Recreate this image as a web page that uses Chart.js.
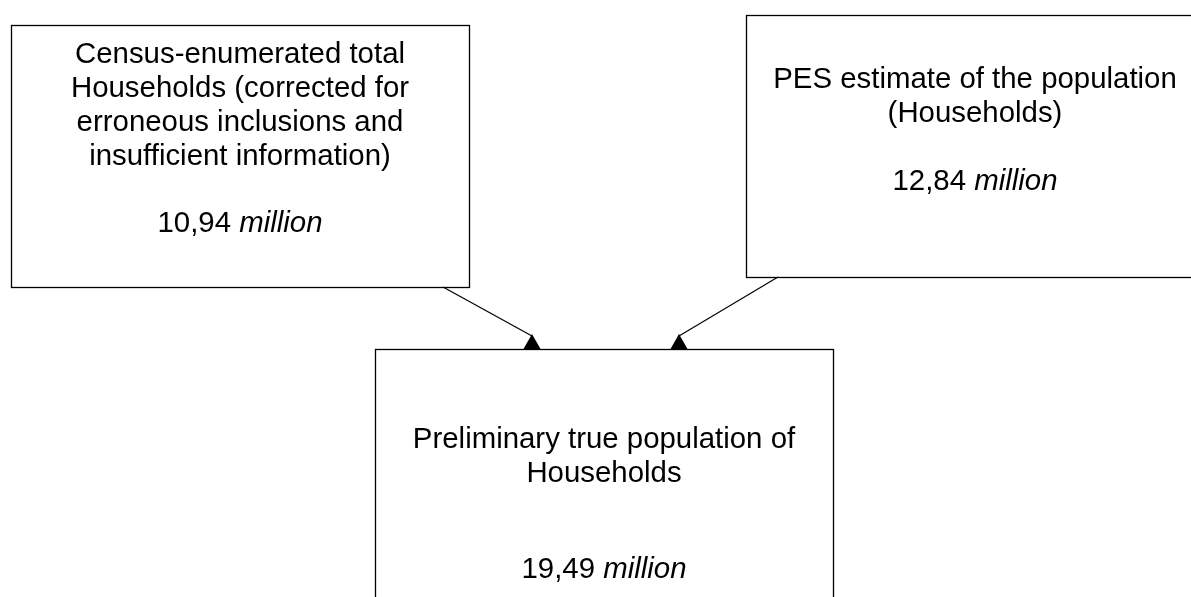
<!DOCTYPE html>
<html>
<head>
<meta charset="utf-8">
<script src="https://cdn.jsdelivr.net/npm/chart.js@4/dist/chart.umd.min.js"></script>
<style>
html,body{margin:0;padding:0;background:#fff;overflow:hidden;}
canvas{display:block;}
</style>
</head>
<body>
<canvas id="c" width="1191" height="597"></canvas>
<script>
// Diagram content
const boxLabels = [
  ["Census-enumerated total", "Households (corrected for", "erroneous inclusions and", "insufficient information)"],
  ["PES estimate of the population", "(Households)"],
  ["Preliminary true population of", "Households"]
];
const boxValues = ["10,94", "12,84", "19,49"];
const unitLabel = "million";
// Box extents in diagram coordinates
const boxLeft   = [11, 746, 375];
const boxRight  = [469, 1204, 833];
const boxTop    = [25, 15, 349];
const boxBottom = [287, 277, 640];
// First label line baseline and value baseline per box
const labelBaseline = [63, 88, 448];
const valueBaseline = [232, 190, 578];
// Arrow connectors: start and tip
const arrowStartX = [443, 778];
const arrowStartY = [287, 277];
const arrowTipX   = [532, 679];
const arrowTipY   = [334, 334];
const arrowBaseY  = [349, 349];

const FONT = '"Liberation Sans", Arial, sans-serif';
const FS = 29.4;
const LH = 34;

const arrowDatasets = arrowStartX.map((sx, i) => ({
  type: 'scatter',
  data: [{x: sx, y: arrowStartY[i]}, {x: arrowTipX[i], y: arrowTipY[i] + 2}],
  showLine: true,
  borderColor: '#000',
  borderWidth: 1.2,
  pointRadius: 0,
  fill: false
}));

const diagramPlugin = {
  id: 'diagram',
  afterDatasetsDraw(chart) {
    const ctx = chart.ctx;
    const xs = chart.scales.x, ys = chart.scales.y;
    ctx.save();
    // boxes
    boxLeft.forEach((l, i) => {
      const x0 = Math.round(xs.getPixelForValue(l)) + 0.5;
      const x1 = Math.round(xs.getPixelForValue(boxRight[i])) + 0.5;
      const y0 = Math.round(ys.getPixelForValue(boxTop[i])) + 0.5;
      const y1 = Math.round(ys.getPixelForValue(boxBottom[i])) + 0.5;
      ctx.strokeStyle = '#000';
      ctx.lineWidth = 1.3;
      ctx.strokeRect(x0, y0, x1 - x0, y1 - y0);
      const cx = (xs.getPixelForValue(l) + xs.getPixelForValue(boxRight[i])) / 2;
      ctx.fillStyle = '#000';
      ctx.textBaseline = 'alphabetic';
      ctx.textAlign = 'center';
      ctx.font = FS + 'px ' + FONT;
      boxLabels[i].forEach((line, j) => {
        ctx.fillText(line, cx, ys.getPixelForValue(labelBaseline[i] + j * LH));
      });
      // value + italic unit
      const vy = ys.getPixelForValue(valueBaseline[i]);
      ctx.font = FS + 'px ' + FONT;
      const vText = boxValues[i] + ' ';
      const w1 = ctx.measureText(vText).width;
      ctx.font = 'italic ' + FS + 'px ' + FONT;
      const w2 = ctx.measureText(unitLabel).width;
      const start = cx - (w1 + w2) / 2;
      ctx.textAlign = 'left';
      ctx.font = FS + 'px ' + FONT;
      ctx.fillText(vText, start, vy);
      ctx.font = 'italic ' + FS + 'px ' + FONT;
      ctx.fillText(unitLabel, start + w1, vy);
    });
    // arrowheads
    arrowTipX.forEach((tx, i) => {
      const px = xs.getPixelForValue(tx);
      const py = ys.getPixelForValue(arrowTipY[i]);
      const by = ys.getPixelForValue(arrowBaseY[i]);
      ctx.beginPath();
      ctx.moveTo(px, py);
      ctx.lineTo(px - 8.5, by);
      ctx.lineTo(px + 8.5, by);
      ctx.closePath();
      ctx.fillStyle = '#000';
      ctx.fill();
    });
    ctx.restore();
  }
};

new Chart(document.getElementById('c'), {
  type: 'scatter',
  data: { datasets: arrowDatasets },
  options: {
    responsive: false,
    animation: false,
    devicePixelRatio: 1,
    layout: { padding: 0 },
    plugins: { legend: { display: false }, tooltip: { enabled: false }, title: { display: false } },
    scales: {
      x: { type: 'linear', min: 0, max: 1191, display: false },
      y: { type: 'linear', min: 0, max: 597, reverse: true, display: false }
    }
  },
  plugins: [diagramPlugin]
});
</script>
</body>
</html>
